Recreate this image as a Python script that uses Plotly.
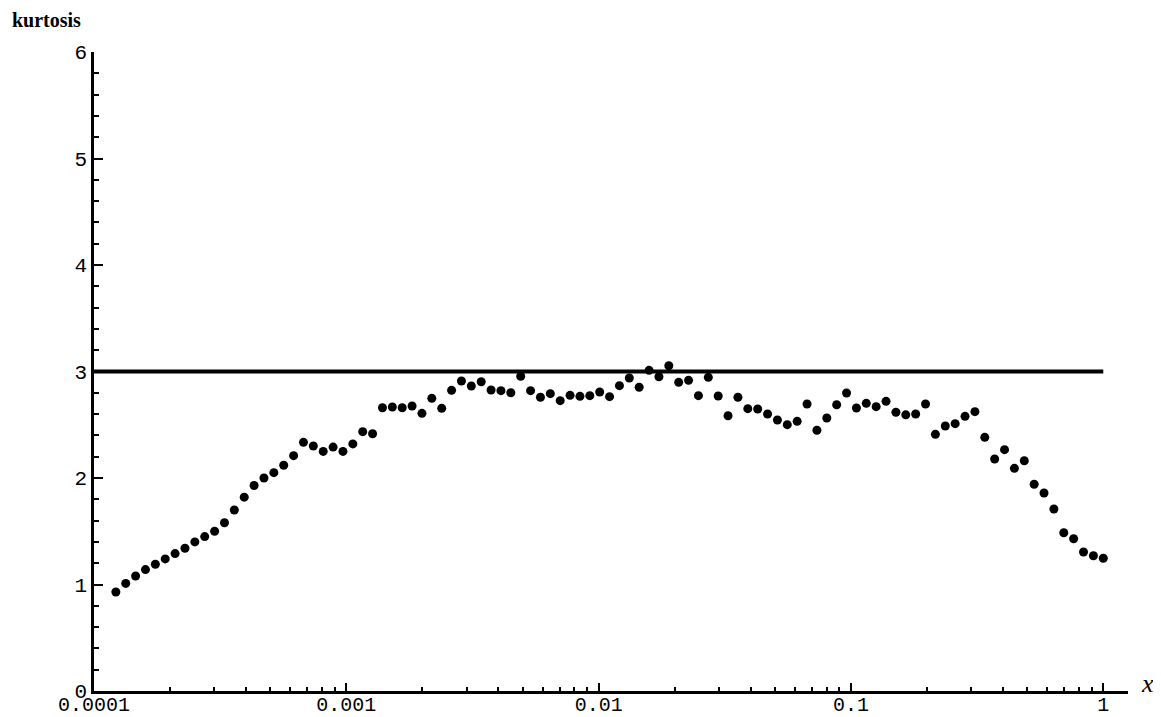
import numpy as np
import plotly.graph_objects as go

# ---- data ----
X_MIN = 2.0 ** -13        # first sample of x (log-spaced grid)
X_MAX = 1.0               # last sample of x
N_SAMPLES = 101
x_values = np.geomspace(X_MIN, X_MAX, N_SAMPLES)

kurtosis = [
    0.93, 1.01, 1.08, 1.14, 1.19, 1.24, 1.29, 1.34, 1.40, 1.45,
    1.50, 1.58, 1.70, 1.82, 1.93, 2.00, 2.05, 2.12, 2.21, 2.335,
    2.30, 2.25, 2.29, 2.25, 2.32, 2.435, 2.415, 2.66, 2.667, 2.66,
    2.676, 2.607, 2.748, 2.654, 2.823, 2.911, 2.864, 2.904, 2.826, 2.82,
    2.80, 2.955, 2.82, 2.758, 2.792, 2.726, 2.776, 2.767, 2.773, 2.808,
    2.764, 2.867, 2.939, 2.852, 3.011, 2.951, 3.054, 2.898, 2.917, 2.773,
    2.945, 2.77, 2.585, 2.758, 2.651, 2.648, 2.601, 2.545, 2.501, 2.532,
    2.695, 2.448, 2.563, 2.688, 2.798, 2.657, 2.701, 2.67, 2.72, 2.617,
    2.593, 2.601, 2.695, 2.41, 2.488, 2.51, 2.579, 2.623, 2.382, 2.178,
    2.266, 2.091, 2.162, 1.941, 1.859, 1.709, 1.486, 1.43, 1.305, 1.27,
    1.246,
]

gaussian_kurtosis = 3.0
ref_x = [1e-4, 1.0]

x_tick_vals = [1e-4, 1e-3, 1e-2, 1e-1, 1.0]
x_tick_text = ["0.0001", "0.001", "0.01", "0.1", "1"]
x_minor_vals = [m * 10.0 ** e for e in range(-4, 0) for m in range(2, 10)]
y_tick_vals = [0, 1, 2, 3, 4, 5, 6]
y_tick_text = ["0", "1", "2", "3", "4", "5", "6"]

X_TICK_FONT = dict(family="Liberation Mono", size=20, color="black")
Y_TICK_FONT = dict(family="Liberation Mono", size=21, color="black")

# page body has an 8px margin: size the figure so it fits the window
W, H = 1153, 709
ML, MR, MT, MB = 86, 33, 44, 26
PW, PH = W - ML - MR, H - MT - MB

fig = go.Figure()
fig.add_trace(go.Scatter(
    x=ref_x, y=[gaussian_kurtosis] * len(ref_x), mode="lines",
    line=dict(color="black", width=4), showlegend=False, hoverinfo="skip",
))
fig.add_trace(go.Scatter(
    x=x_values, y=kurtosis, mode="markers",
    marker=dict(color="black", size=9), showlegend=False,
))

fig.update_layout(
    width=W, height=H,
    margin=dict(l=ML, r=MR, t=MT, b=MB),
    paper_bgcolor="white", plot_bgcolor="white",
    xaxis=dict(
        type="log", range=[-4, 0.098], automargin=False,
        tickmode="array", tickvals=x_tick_vals, ticktext=x_tick_text,
        ticks="inside", ticklen=8, tickwidth=2, tickcolor="black",
        minor=dict(tickmode="array", tickvals=x_minor_vals, ticks="inside",
                   ticklen=4, tickwidth=1.5, tickcolor="black", showgrid=False),
        showline=True, linecolor="black", linewidth=2.5,
        showgrid=False, zeroline=False, tickfont=X_TICK_FONT,
        ticklabelstandoff=-7,
    ),
    yaxis=dict(
        range=[0, 6], automargin=False,
        tickmode="array", tickvals=y_tick_vals, ticktext=y_tick_text,
        ticks="inside", ticklen=9, tickwidth=2, tickcolor="black",
        minor=dict(dtick=0.2, ticks="inside", ticklen=5, tickwidth=1.5,
                   tickcolor="black", showgrid=False),
        showline=True, linecolor="black", linewidth=2.5,
        showgrid=False, zeroline=False, tickfont=Y_TICK_FONT,
        ticklabelstandoff=0,
    ),
    annotations=[
        dict(text="<b>kurtosis</b>", xref="paper", yref="paper",
             x=(3 - ML) / PW, y=(H - MB) / PH, borderpad=0,
             xanchor="left", yanchor="top", showarrow=False,
             font=dict(family="Liberation Serif", size=20, color="black")),
        dict(text="<i>x</i>", xref="paper", yref="paper",
             x=(1131 - ML) / PW, y=8 / PH,
             xanchor="left", yanchor="middle", showarrow=False,
             font=dict(family="Liberation Serif", size=26, color="black")),
    ],
)

fig.write_html("out.html")
